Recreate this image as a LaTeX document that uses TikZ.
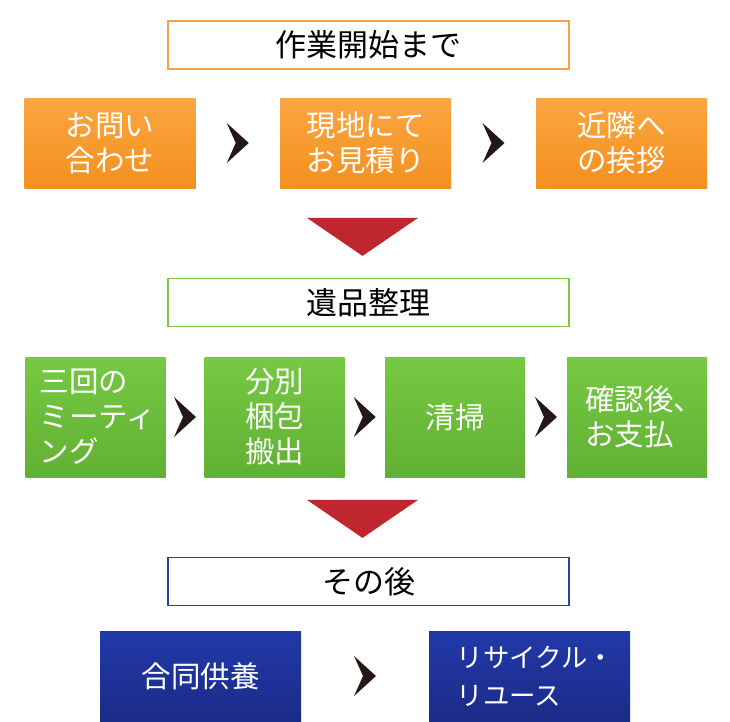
\documentclass[tikz,border=0pt]{standalone}
\usepackage{fontspec}
\newfontfamily\jp{Noto Sans CJK JP}
\usetikzlibrary{calc}
\definecolor{orgtop}{HTML}{FBA640}
\definecolor{orgbot}{HTML}{F39020}
\definecolor{grntop}{HTML}{76C943}
\definecolor{grnbot}{HTML}{62B033}
\definecolor{blutop}{HTML}{2139A8}
\definecolor{blubot}{HTML}{1B2B88}
\definecolor{orgline}{HTML}{F7A440}
\definecolor{grnline}{HTML}{7DC940}
\definecolor{bluline}{HTML}{2A3FA8}
\definecolor{tri}{HTML}{C0262D}
\definecolor{chevcol}{HTML}{231815}
\begin{document}
\begin{tikzpicture}[x=1pt,y=-1pt,
  hdr/.style={draw, line width=1.2pt, fill=white, minimum width=401pt, minimum height=48pt,
    inner sep=0pt, font=\jp\fontsize{31}{33}\selectfont, text=black},
  boxtext/.style={font=\jp\fontsize{29.5}{35}\selectfont, text=white, inner sep=0pt},
  obox/.style={boxtext, top color=orgtop, bottom color=orgbot, minimum width=171pt, minimum height=90pt, align=center},
  gbox/.style={boxtext, top color=grntop, bottom color=grnbot, minimum width=140pt, minimum height=120pt, align=center},
  bbox/.style={boxtext, top color=blutop, bottom color=blubot, minimum width=201pt, minimum height=90pt, align=center},
  chev/.pic={\fill[chevcol] (-11,-20) -- (11,0) -- (-11,20) -- (-2,0) -- cycle;},
  trifill/.style={fill=tri}
]
\useasboundingbox (0,0) rectangle (730,721);

% ---- section 1
\node[hdr, draw=orgline] (h1) at (368.5,45) {作業開始まで};
\node[obox] (o1) at (110,143) {お問い\\合わせ};
\node[obox] (o2) at (365.5,143) {現地にて\\お見積り};
\node[obox] (o3) at (621.5,143) {近隣へ\\の挨拶};
\pic at ($(o1.east)!.5!(o2.west)$) {chev};
\pic at ($(o2.east)!.5!(o3.west)$) {chev};

% ---- section 2
\node[hdr, draw=grnline] (h2) at (368.5,302.5) {遺品整理};
\fill[trifill] ($(h2.north)+(-61.5,-60)$) -- ($(h2.north)+(49.5,-60)$) -- ($(h2.north)+(-6,-22)$) -- cycle;
\node[gbox, align=left, text width=112pt] (g1) at (95.5,417) {三回の\\ミーティ\\ング};
\node[gbox] (g2) at (274.5,417) {分別\\梱包\\搬出};
\node[gbox] (g3) at (455,417) {清掃};
\node[gbox, align=left, text width=104pt] (g4) at (637,417) {確認後、\\お支払};
\pic at ($(g1.east)!.5!(g2.west)$) {chev};
\pic at ($(g2.east)!.5!(g3.west)$) {chev};
\pic at ($(g3.east)!.5!(g4.west)$) {chev};

% ---- section 3
\node[hdr, draw=bluline] (h3) at (368.5,581.5) {その後};
\fill[trifill] ($(h3.north)+(-61.5,-57)$) -- ($(h3.north)+(49.5,-57)$) -- ($(h3.north)+(-6,-19)$) -- cycle;
\node[bbox] (b1) at (200.5,676) {合同供養};
\node[bbox, align=left, text width=146pt, font=\jp\fontsize{26.5}{38}\selectfont] (b2) at (529.5,676) {リサイクル・\\リユース};
\pic at ($(b1.east)!.5!(b2.west)$) {chev};
\end{tikzpicture}
\end{document}
